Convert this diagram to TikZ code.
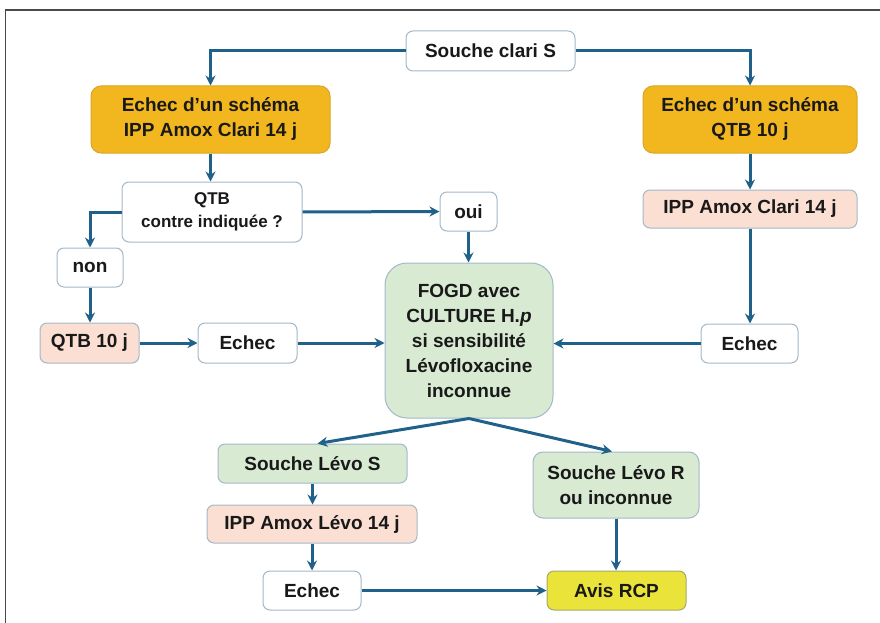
\documentclass[tikz,border=0pt]{standalone}
\usepackage{fontspec}
\setmainfont{Liberation Sans}
\usetikzlibrary{arrows.meta}
\definecolor{arr}{HTML}{1F6189}
\definecolor{gold}{HTML}{F2B71E}
\definecolor{goldb}{HTML}{D9A52A}
\definecolor{peach}{HTML}{FADFD2}
\definecolor{greenf}{HTML}{D8EAD2}
\definecolor{yel}{HTML}{E9E33A}
\definecolor{boxb}{HTML}{A3B8C8}
\definecolor{frame}{HTML}{4A4A4A}
\begin{document}
\begin{tikzpicture}[x=1pt,y=-1pt,
  every node/.style={font=\fontsize{19}{25}\selectfont\bfseries, align=center, inner sep=0pt, text=black!90},
  box/.style={draw=boxb, line width=1pt, rounded corners=7pt},
  wbox/.style={box, fill=white},
  obox/.style={draw=goldb, line width=1pt, rounded corners=10pt, fill=gold},
  pbox/.style={box, fill=peach},
  gbox/.style={box, fill=greenf},
  ybox/.style={box, fill=yel, draw=yel!70!black!60!boxb},
  conn/.style={draw=arr, line width=3pt, -{Stealth[length=10pt,width=10pt]}}
]
\useasboundingbox (0,0) rectangle (880,623);
\draw[frame, line width=1.5pt] (880,10) -- (5.5,10) -- (5.5,623);

\node[wbox, minimum width=169pt, minimum height=40pt] (sc) at (490.5,51) {Souche clari S};
\node[obox, minimum width=239pt, minimum height=67pt] (el) at (210.5,119.5) {Echec d’un schéma\\IPP Amox Clari 14 j};
\node[obox, minimum width=214pt, minimum height=67pt] (er) at (750,119.5) {Echec d’un schéma\\QTB 10 j};
\node[wbox, minimum width=180pt, minimum height=60pt, font=\fontsize{17}{23}\selectfont\bfseries] (qtb) at (212,212) {QTB\\contre indiquée ?};
\node[wbox, minimum width=57pt, minimum height=39pt] (oui) at (468.5,211.5) {oui};
\node[pbox, minimum width=214pt, minimum height=38pt] (ippr) at (750,209) {IPP Amox Clari 14 j};
\node[wbox, minimum width=66pt, minimum height=39pt] (non) at (90,267.5) {non};
\node[pbox, minimum width=99pt, minimum height=40pt] (q10) at (89.5,343) {QTB 10 j};
\node[wbox, minimum width=99pt, minimum height=40pt] (em) at (247.5,343) {Echec};
\node[gbox, rounded corners=22pt, minimum width=168pt, minimum height=155pt] (fogd) at (469,340.5) {FOGD avec\\CULTURE H.\textit{p}\\si sensibilité\\Lévofloxacine\\inconnue};
\node[wbox, minimum width=97pt, minimum height=39pt] (erc) at (749.5,343.5) {Echec};
\node[gbox, minimum width=189pt, minimum height=39pt] (ls) at (312.5,463.5) {Souche Lévo S};
\node[gbox, rounded corners=10pt, minimum width=166pt, minimum height=66pt] (lr) at (616,485) {Souche Lévo R\\ou inconnue};
\node[pbox, minimum width=210pt, minimum height=38pt] (ippl) at (312,524) {IPP Amox Lévo 14 j};
\node[wbox, minimum width=98pt, minimum height=39pt] (eb) at (312,590.5) {Echec};
\node[ybox, minimum width=139pt, minimum height=39pt] (rcp) at (616.5,590.5) {Avis RCP};

\draw[conn] (sc.west) -| (el.north);
\draw[conn] (sc.east) -| (er.north);
\draw[conn] (el.south) -- (qtb.north -| el.south);
\draw[conn] (qtb.west) -| (non.north);
\draw[conn] (qtb.east) -- (oui.west);
\draw[conn] (oui.south) -- (fogd.north -| oui.south);
\draw[conn] (er.south) -- (ippr.north);
\draw[conn] (ippr.south) -- (erc.north -| ippr.south);
\draw[conn] (non.south) -- (q10.north -| non.south);
\draw[conn] (q10.east) -- (em.west);
\draw[conn] (em.east) -- (fogd.west |- em.east);
\draw[conn] (erc.west) -- (fogd.east |- erc.west);
\draw[conn] (fogd.south) -- ([xshift=5pt]ls.north);
\draw[conn] (fogd.south) -- ([xshift=-4pt]lr.north);
\draw[conn] (ls.south) -- (ippl.north -| ls.south);
\draw[conn] (ippl.south) -- (eb.north);
\draw[conn] (eb.east) -- (rcp.west);
\draw[conn] (lr.south) -- (rcp.north -| lr.south);
\end{tikzpicture}
\end{document}
